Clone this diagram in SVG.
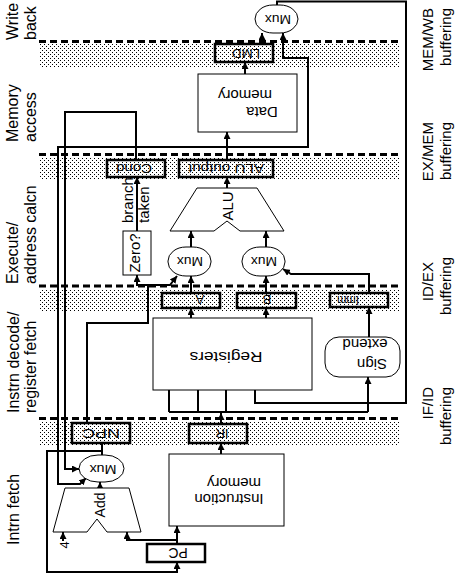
<svg xmlns="http://www.w3.org/2000/svg" width="456" height="574" viewBox="0 0 456 574">
<style>
.t{font-family:"Liberation Sans",Arial,sans-serif;fill:#000}
.c{text-anchor:middle;dominant-baseline:central}
.thick{fill:none;stroke:#000;stroke-width:2.5}
.thin{fill:#fff;stroke:#000;stroke-width:1}
.wire{fill:none;stroke:#000;stroke-width:2}
.arr{marker-end:url(#ah)}
.dash{fill:none;stroke:#000;stroke-width:3;stroke-dasharray:7 4}
</style>
<defs>
<marker id="ah" markerWidth="8" markerHeight="7" refX="7" refY="3.5" orient="auto" markerUnits="userSpaceOnUse"><path d="M0,0 L7,3.5 L0,7 z" fill="#000"/></marker>
<pattern id="dots" width="4" height="4" patternUnits="userSpaceOnUse"><rect x="0" y="0" width="1" height="1" fill="#000"/><rect x="2" y="2" width="1" height="1" fill="#000"/></pattern>
</defs>
<rect width="456" height="574" fill="#fff"/>

<g id="bands">
<rect x="39" y="44" width="361" height="24" fill="url(#dots)"/>
<line class="dash" x1="39" y1="41.5" x2="400" y2="41.5"/>
<rect x="39" y="157" width="361" height="22" fill="url(#dots)"/>
<line class="dash" x1="39" y1="154.5" x2="400" y2="154.5"/>
<rect x="39" y="289" width="361" height="22" fill="url(#dots)"/>
<line class="dash" x1="39" y1="286" x2="400" y2="286"/>
<rect x="39" y="422" width="361" height="23" fill="url(#dots)"/>
<line class="dash" x1="39" y1="418.5" x2="400" y2="418.5"/>
</g>

<g id="stage-labels" class="t" font-size="16">
<text transform="translate(18,40) rotate(-90)">Write</text>
<text transform="translate(36,40) rotate(-90)">back</text>
<text transform="translate(18,142) rotate(-90)">Memory</text>
<text transform="translate(36,142) rotate(-90)">access</text>
<text transform="translate(18,284) rotate(-90)">Execute/</text>
<text transform="translate(36,284) rotate(-90)">address calcn</text>
<text transform="translate(19,413) rotate(-90)">Instrn decode/</text>
<text transform="translate(36,413) rotate(-90)">register fetch</text>
<text transform="translate(19,545) rotate(-90)">Intrn fetch</text>
</g>

<g id="buffer-labels" class="t" font-size="15" text-anchor="end">
<text transform="translate(433,8) rotate(-90)">MEM/WB</text>
<text transform="translate(451,8) rotate(-90)">buffering</text>
<text transform="translate(433,122) rotate(-90)">EX/MEM</text>
<text transform="translate(451,122) rotate(-90)">buffering</text>
<text transform="translate(433,262) rotate(-90)">ID/EX</text>
<text transform="translate(451,257) rotate(-90)">buffering</text>
<text transform="translate(433,387) rotate(-90)">IF/ID</text>
<text transform="translate(451,387) rotate(-90)">buffering</text>
</g>

<g id="connectors">
<path class="wire arr" d="M177,544 V526"/>
<path class="wire arr" d="M177,540 H127 V532"/>
<path class="wire arr" d="M63,541 V532"/>
<path class="wire arr" d="M100,488 V482"/>
<path class="wire" d="M102,455 V443"/>
<path class="wire arr" d="M102,451 H47 V572 H177 V562"/>
<path class="wire arr" d="M221,454 V443"/>
<path class="wire arr" d="M221,424 V413"/>
<path class="wire" d="M169,412 H368"/>
<path class="wire arr" d="M169,412 V318"/>
<path class="wire arr" d="M198,412 V318"/>
<path class="wire arr" d="M226,412 V318"/>
<path class="wire arr" d="M368,412 V377"/>
<path class="wire arr" d="M277,5 V1.5 H406 V403 H255 V318"/>
<path class="wire arr" d="M191,318 V308"/>
<path class="wire arr" d="M266,318 V308"/>
<path class="wire arr" d="M369,337 V307"/>
<path class="wire arr" d="M191,293 V276"/>
<path class="wire arr" d="M266,293 V276"/>
<path class="wire arr" d="M369,293 V274 H291 L283,269"/>
<path class="wire arr" d="M87,423 V323 H148 V285 H170 L177,276"/>
<path class="wire arr" d="M148,285 H137 V275"/>
<path class="wire arr" d="M191,247 V231"/>
<path class="wire arr" d="M266,247 V231"/>
<path class="wire arr" d="M227,188 V177"/>
<path class="wire arr" d="M137,231 V177"/>
<path class="wire arr" d="M227,160 V132"/>
<path class="wire arr" d="M227,147 H58 V484 H80 L86,478"/>
<path class="wire arr" d="M227,147 H308 V58 H283 V33"/>
<path class="wire arr" d="M136,160 V112 H65 V469 H79"/>
<path class="wire arr" d="M245,74 V62"/>
<path class="wire arr" d="M262,44 V33"/>
</g>

<g id="pc">
<rect class="thick" x="147" y="544" width="58" height="18"/>
<text class="t c" font-size="14" transform="translate(178,553) rotate(180)">PC</text>
</g>
<g id="add">
<path class="thin" d="M65,488 H129 L141,532 H107 L97,519 L87,532 H53 Z"/>
<text class="t c" font-size="14" transform="translate(100,505) rotate(-90)">Add</text>
</g>
<g id="four">
<text class="t c" font-size="13" transform="translate(64,545) rotate(-90)">4</text>
</g>
<g id="if-mux">
<rect class="thin" x="79" y="455" width="45" height="27" rx="19" ry="13.5"/>
<text class="t c" font-size="13" textLength="27" lengthAdjust="spacingAndGlyphs" transform="translate(103,469) rotate(180)">Mux</text>
</g>
<g id="npc">
<rect class="thick" x="72" y="423" width="58" height="20"/>
<text class="t c" font-size="13" textLength="38" lengthAdjust="spacingAndGlyphs" transform="translate(101,433) rotate(180)">NPC</text>
</g>
<g id="instr-mem">
<rect class="thin" x="169" y="454" width="115" height="72"/>
<text class="t c" font-size="15" transform="translate(229,499) rotate(180)">Instruction</text>
<text class="t c" font-size="15" transform="translate(234,483) rotate(180)">memory</text>
</g>
<g id="ir">
<rect class="thick" x="189" y="424" width="58" height="19"/>
<text class="t c" font-size="13" transform="translate(222,433.5) rotate(180)">IR</text>
</g>
<g id="registers">
<rect class="thin" x="153" y="318" width="159" height="72"/>
<text class="t c" font-size="15" textLength="73" lengthAdjust="spacingAndGlyphs" transform="translate(226,357) rotate(180)">Registers</text>
</g>
<g id="sign-extend">
<rect class="thin" x="325" y="337" width="75" height="40" rx="14" ry="14"/>
<text class="t c" font-size="15" transform="translate(372,364) rotate(180)">Sign</text>
<text class="t c" font-size="15" transform="translate(365,344) rotate(180)">extend</text>
</g>
<g id="reg-a">
<rect class="thick" x="162" y="293" width="58" height="15"/>
<text class="t c" font-size="13" transform="translate(200,299.5) rotate(180)">A</text>
</g>
<g id="reg-b">
<rect class="thick" x="237" y="293" width="59" height="15"/>
<text class="t c" font-size="13" transform="translate(267,299.5) rotate(180)">B</text>
</g>
<g id="reg-imm">
<rect class="thick" x="330" y="293" width="58" height="14"/>
<text class="t c" font-size="13" textLength="22" lengthAdjust="spacingAndGlyphs" transform="translate(348,300.5) rotate(180)">Imm</text>
</g>
<g id="ex-mux-a">
<rect class="thin" x="168" y="247" width="43" height="29" rx="18" ry="14"/>
<text class="t c" font-size="13" textLength="26" lengthAdjust="spacingAndGlyphs" transform="translate(190,261) rotate(180)">Mux</text>
</g>
<g id="ex-mux-b">
<rect class="thin" x="242" y="247" width="43" height="29" rx="18" ry="14"/>
<text class="t c" font-size="13" textLength="26" lengthAdjust="spacingAndGlyphs" transform="translate(264,261) rotate(180)">Mux</text>
</g>
<g id="zero">
<rect class="thin" x="123" y="231" width="28" height="44"/>
<text class="t c" font-size="15" transform="translate(134,253) rotate(-90)">Zero?</text>
</g>
<g id="branch-label" class="t" font-size="15">
<text transform="translate(133,223) rotate(-90)">branch</text>
<text transform="translate(149,223) rotate(-90)">taken</text>
</g>
<g id="alu">
<path class="thin" d="M197,188 H257 L284,231 H240 L227,221 L214,231 H170 Z"/>
<text class="t c" font-size="15" transform="translate(227,206) rotate(-90)">ALU</text>
</g>
<g id="cond">
<rect class="thick" x="107" y="160" width="58" height="17"/>
<text class="t c" font-size="13" textLength="36" lengthAdjust="spacingAndGlyphs" transform="translate(134,168.5) rotate(180)">Cond</text>
</g>
<g id="alu-output">
<rect class="thick" x="179" y="160" width="94" height="17"/>
<text class="t c" font-size="13" textLength="76" lengthAdjust="spacingAndGlyphs" transform="translate(226,168.5) rotate(180)">ALU output</text>
</g>
<g id="data-mem">
<rect class="thin" x="198" y="74" width="99" height="58"/>
<text class="t c" font-size="15" transform="translate(262,112) rotate(180)">Data</text>
<text class="t c" font-size="15" transform="translate(245,95) rotate(180)">memory</text>
</g>
<g id="lmd">
<rect class="thick" x="215" y="44" width="58" height="18"/>
<text class="t c" font-size="13" textLength="28" lengthAdjust="spacingAndGlyphs" transform="translate(246,53) rotate(180)">LMD</text>
</g>
<g id="wb-mux">
<rect class="thin" x="255" y="5" width="43" height="28" rx="18" ry="14"/>
<text class="t c" font-size="13" textLength="26" lengthAdjust="spacingAndGlyphs" transform="translate(278,19) rotate(180)">Mux</text>
</g>
</svg>
